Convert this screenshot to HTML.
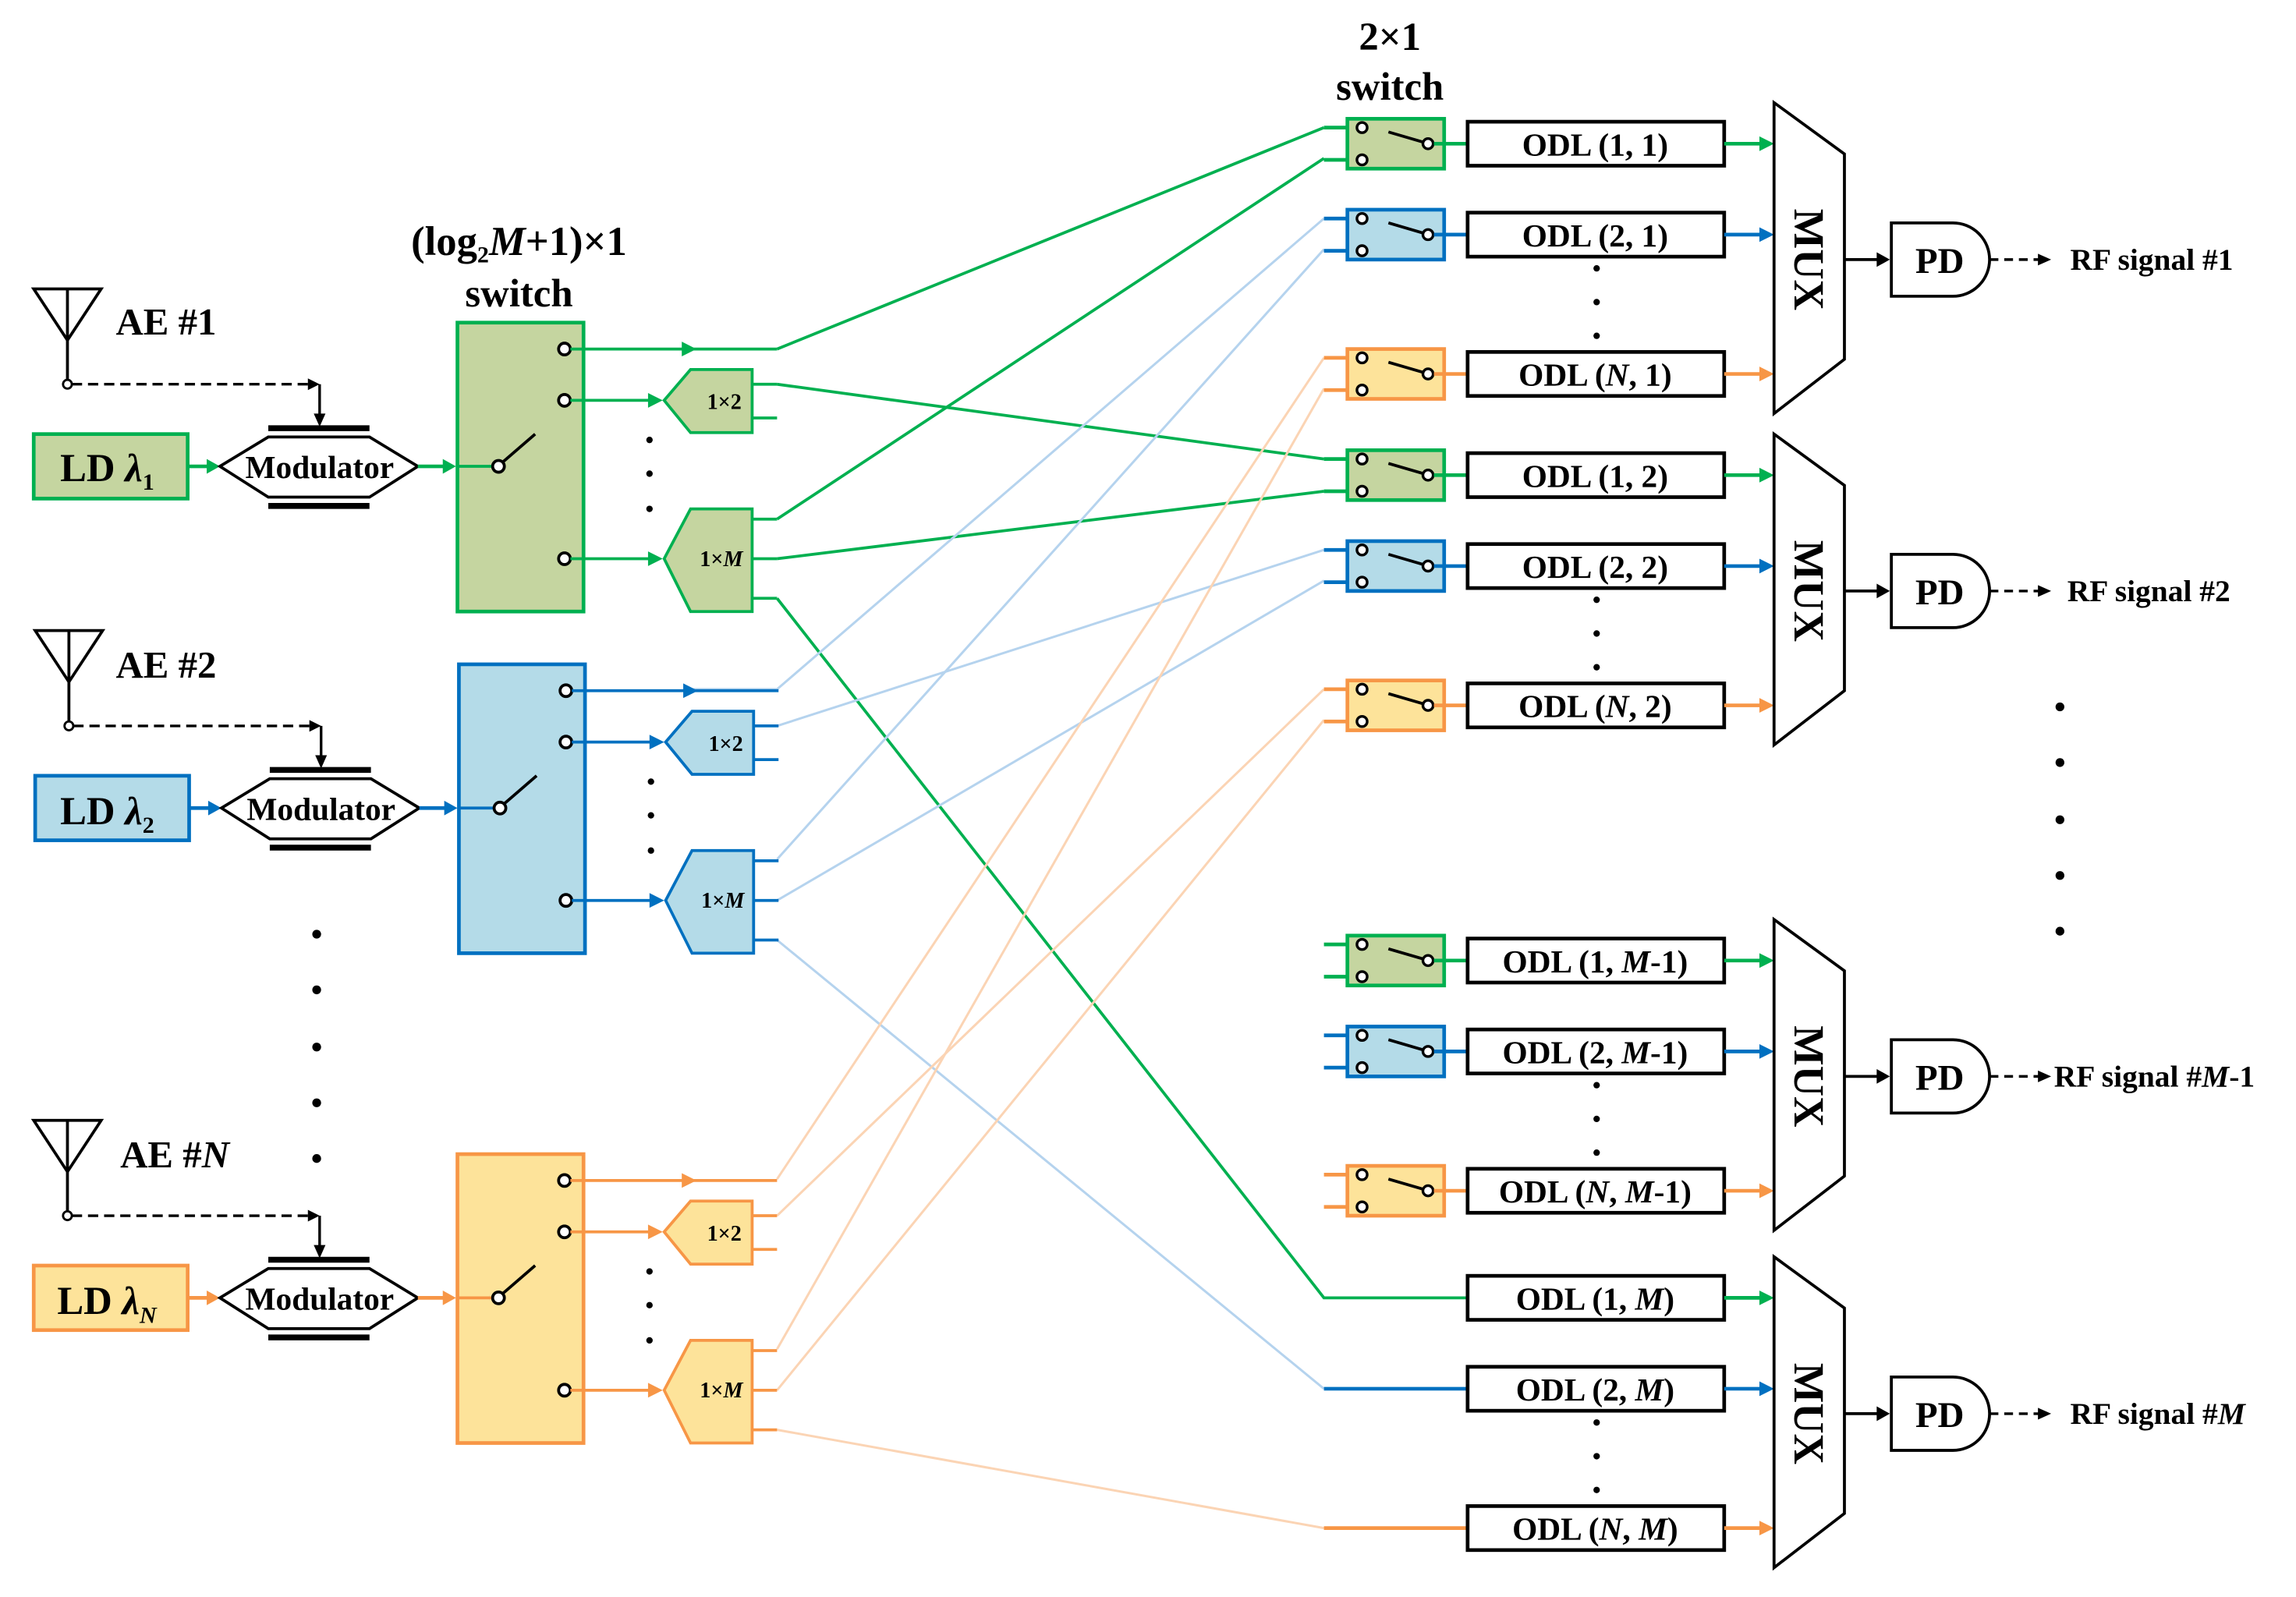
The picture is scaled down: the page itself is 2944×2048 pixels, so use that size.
<!DOCTYPE html>
<html><head><meta charset="utf-8"><style>
html,body{margin:0;padding:0;background:#fff}
svg{display:block}
text{font-family:"Liberation Serif",serif;font-weight:bold;fill:#000}
</style></head><body>
<svg width="2944" height="2048" viewBox="0 0 1566 1089" preserveAspectRatio="none" xmlns="http://www.w3.org/2000/svg">
<defs>
<g id="blk">
 <polygon points="23,197 69,197 46,232" fill="none" stroke="#000" stroke-width="2"/>
 <line x1="46" y1="197" x2="46" y2="259" stroke="#000" stroke-width="2"/>
 <circle cx="46" cy="262" r="3" fill="#fff" stroke="#000" stroke-width="1.5"/>
 <line x1="49" y1="262" x2="212" y2="262" stroke="#000" stroke-width="1.8" stroke-dasharray="7,4"/>
 <polygon points="210,258 218,262 210,266" fill="#000"/>
 <line x1="218" y1="262" x2="218" y2="283" stroke="#000" stroke-width="1.8"/>
 <polygon points="214,282 218,291 222,282" fill="#000"/>
 <rect x="23" y="296" width="105" height="44" style="fill:var(--f)" stroke="currentColor" stroke-width="2.5"/>
 <line x1="128" y1="318" x2="143" y2="318" stroke="currentColor" stroke-width="2.5"/>
 <polygon points="141,313 150,318 141,323" fill="currentColor"/>
 <polygon points="150,318 183,298 252,298 285,318 252,339 183,339" fill="#fff" stroke="#000" stroke-width="2"/>
 <line x1="183" y1="292" x2="252" y2="292" stroke="#000" stroke-width="4"/>
 <line x1="183" y1="345" x2="252" y2="345" stroke="#000" stroke-width="4"/>
 <text x="218" y="326" font-size="22" text-anchor="middle">Modulator</text>
 <line x1="285" y1="318" x2="304" y2="318" stroke="currentColor" stroke-width="2.5"/>
 <polygon points="302,313 311,318 302,323" fill="currentColor"/>
 <rect x="312" y="220" width="86" height="197" style="fill:var(--f)" stroke="currentColor" stroke-width="2.5"/>
 <line x1="311" y1="318" x2="336" y2="318" stroke="currentColor" stroke-width="2"/>
 <circle cx="340" cy="318" r="4" fill="#fff" stroke="#000" stroke-width="2"/>
 <line x1="343" y1="315" x2="365" y2="296" stroke="#000" stroke-width="2"/>
 <circle cx="385" cy="238" r="4" fill="#fff" stroke="#000" stroke-width="2"/>
 <circle cx="385" cy="273" r="4" fill="#fff" stroke="#000" stroke-width="2"/>
 <circle cx="385" cy="381" r="4" fill="#fff" stroke="#000" stroke-width="2"/>
 <line x1="389" y1="238" x2="530" y2="238" stroke="currentColor" stroke-width="2"/>
 <polygon points="465,233 475,238 465,243" fill="currentColor"/>
 <line x1="389" y1="273" x2="446" y2="273" stroke="currentColor" stroke-width="2"/>
 <polygon points="442,268 452,273 442,278" fill="currentColor"/>
 <line x1="389" y1="381" x2="446" y2="381" stroke="currentColor" stroke-width="2"/>
 <polygon points="442,376 452,381 442,386" fill="currentColor"/>
 <polygon points="453,273 471,252 513,252 513,295 471,295" style="fill:var(--f)" stroke="currentColor" stroke-width="2"/>
 <text x="494" y="279" font-size="15" font-weight="normal" text-anchor="middle">1×2</text>
 <line x1="513" y1="262" x2="530" y2="262" stroke="currentColor" stroke-width="2"/>
 <line x1="513" y1="285" x2="530" y2="285" stroke="currentColor" stroke-width="2"/>
 <polygon points="453,381 471,347 513,347 513,417 471,417" style="fill:var(--f)" stroke="currentColor" stroke-width="2"/>
 <text x="492" y="386" font-size="15" font-weight="normal" text-anchor="middle">1×<tspan font-style="italic">M</tspan></text>
 <line x1="513" y1="354" x2="530" y2="354" stroke="currentColor" stroke-width="2"/>
 <line x1="513" y1="381" x2="530" y2="381" stroke="currentColor" stroke-width="2"/>
 <line x1="513" y1="408" x2="530" y2="408" stroke="currentColor" stroke-width="2"/>
 <circle cx="443" cy="300" r="2.2" fill="#000"/>
 <circle cx="443" cy="323" r="2.2" fill="#000"/>
 <circle cx="443" cy="347" r="2.2" fill="#000"/>
</g>
<g id="sw">
 <line x1="903" y1="-11" x2="925" y2="-11" stroke="currentColor" stroke-width="2.5"/>
 <line x1="903" y1="11" x2="925" y2="11" stroke="currentColor" stroke-width="2.5"/>
 <rect x="919" y="-17" width="66" height="34" style="fill:var(--f)" stroke="currentColor" stroke-width="2.5"/>
 <circle cx="929" cy="-11" r="3.5" fill="#fff" stroke="#000" stroke-width="1.8"/>
 <circle cx="929" cy="11" r="3.5" fill="#fff" stroke="#000" stroke-width="1.8"/>
 <line x1="947" y1="-8" x2="971" y2="-1" stroke="#000" stroke-width="2"/>
 <circle cx="974" cy="0" r="3.5" fill="#fff" stroke="#000" stroke-width="1.8"/>
 <line x1="978" y1="0" x2="1001" y2="0" stroke="currentColor" stroke-width="2.5"/>
</g>
<g id="grp">
 <path d="M1210,70 L1258,105 L1258,245 L1210,282 Z" fill="#fff" stroke="#000" stroke-width="2"/>
 <text transform="translate(1224,177) rotate(90)" font-size="29" text-anchor="middle">MUX</text>
 <line x1="1258" y1="177" x2="1282" y2="177" stroke="#000" stroke-width="2"/>
 <polygon points="1280,172 1289,177 1280,182" fill="#000"/>
 <path d="M1290,152 L1332,152 A25,25 0 0 1 1332,202 L1290,202 Z" fill="#fff" stroke="#000" stroke-width="2"/>
 <text x="1323" y="186" font-size="25" text-anchor="middle">PD</text>
 <line x1="1357" y1="177" x2="1392" y2="177" stroke="#000" stroke-width="1.8" stroke-dasharray="6,4"/>
 <polygon points="1390,173 1399,177 1390,181" fill="#000"/>
</g>
</defs>

<g fill="none" stroke-width="1.6">
 <polyline points="530,238 903,87" stroke="#00b050" stroke-width="2"/>
 <polyline points="530,262 903,313" stroke="#00b050" stroke-width="2"/>
 <polyline points="530,354 903,108" stroke="#00b050" stroke-width="2"/>
 <polyline points="530,381 903,335" stroke="#00b050" stroke-width="2"/>
 <polyline points="530,408 903,885 1001,885" stroke="#00b050" stroke-width="2"/>
 <polyline points="470,470 530,470 903,149" stroke="#b5d3ee"/>
 <polyline points="530,495 903,375" stroke="#b5d3ee"/>
 <polyline points="530,586 903,170" stroke="#b5d3ee"/>
 <polyline points="530,614 903,396" stroke="#b5d3ee"/>
 <polyline points="530,641 903,947" stroke="#b5d3ee"/>
 <line x1="903" y1="947" x2="1001" y2="947" stroke="#0070c0" stroke-width="2.5"/>
 <polyline points="530,804 903,244" stroke="#fbd4b4"/>
 <polyline points="530,829 903,470" stroke="#fbd4b4"/>
 <polyline points="530,920 903,265" stroke="#fbd4b4"/>
 <polyline points="530,948 903,491" stroke="#fbd4b4"/>
 <polyline points="530,975 903,1042" stroke="#fbd4b4"/>
 <line x1="903" y1="1042" x2="1001" y2="1042" stroke="#f79646" stroke-width="2.5"/>
</g>

<use href="#blk" style="color:#00b050;--f:#c5d5a0"/>
<use href="#blk" transform="translate(1,233)" style="color:#0070c0;--f:#b4dbe8"/>
<use href="#blk" transform="translate(0,567)" style="color:#f79646;--f:#fde39a"/>

<text x="79" y="228" font-size="26">AE #1</text>
<text x="79" y="462" font-size="26">AE #2</text>
<text x="82" y="796" font-size="26">AE #<tspan font-style="italic">N</tspan></text>
<text x="41" y="328" font-size="27">LD <tspan font-style="italic">λ</tspan><tspan font-size="16" dy="6">1</tspan></text>
<text x="41" y="562" font-size="27">LD <tspan font-style="italic">λ</tspan><tspan font-size="16" dy="6">2</tspan></text>
<text x="39" y="896" font-size="27">LD <tspan font-style="italic">λ</tspan><tspan font-size="16" dy="6" font-style="italic">N</tspan></text>
<text x="354" y="174" font-size="28" text-anchor="middle">(log<tspan font-size="16" dy="5">2</tspan><tspan dy="-5" font-style="italic">M</tspan>+1)×1</text>
<text x="354" y="209" font-size="27" text-anchor="middle">switch</text>
<text x="948" y="34" font-size="27" text-anchor="middle">2×1</text>
<text x="948" y="68" font-size="27" text-anchor="middle">switch</text>
<g fill="#000">
 <circle cx="216" cy="637" r="3"/><circle cx="216" cy="675" r="3"/><circle cx="216" cy="714" r="3"/><circle cx="216" cy="752" r="3"/><circle cx="216" cy="790" r="3"/>
 <circle cx="1405" cy="482" r="3"/><circle cx="1405" cy="520" r="3"/><circle cx="1405" cy="559" r="3"/><circle cx="1405" cy="597" r="3"/><circle cx="1405" cy="635" r="3"/>
</g>

<use href="#sw" transform="translate(0,98)" style="color:#00b050;--f:#c5d5a0"/>
<use href="#sw" transform="translate(0,160)" style="color:#0070c0;--f:#b4dbe8"/>
<use href="#sw" transform="translate(0,255)" style="color:#f79646;--f:#fde39a"/>
<use href="#sw" transform="translate(0,324)" style="color:#00b050;--f:#c5d5a0"/>
<use href="#sw" transform="translate(0,386)" style="color:#0070c0;--f:#b4dbe8"/>
<use href="#sw" transform="translate(0,481)" style="color:#f79646;--f:#fde39a"/>
<use href="#sw" transform="translate(0,655)" style="color:#00b050;--f:#c5d5a0"/>
<use href="#sw" transform="translate(0,717)" style="color:#0070c0;--f:#b4dbe8"/>
<use href="#sw" transform="translate(0,812)" style="color:#f79646;--f:#fde39a"/>

<g stroke-width="2.5">
 <g fill="#fff" stroke="#000">
  <rect x="1001" y="83" width="175" height="30"/><rect x="1001" y="145" width="175" height="30"/><rect x="1001" y="240" width="175" height="30"/>
  <rect x="1001" y="309" width="175" height="30"/><rect x="1001" y="371" width="175" height="30"/><rect x="1001" y="466" width="175" height="30"/>
  <rect x="1001" y="640" width="175" height="30"/><rect x="1001" y="702" width="175" height="30"/><rect x="1001" y="797" width="175" height="30"/>
  <rect x="1001" y="870" width="175" height="30"/><rect x="1001" y="932" width="175" height="30"/><rect x="1001" y="1027" width="175" height="30"/>
 </g>
 <g stroke="#00b050"><line x1="1176" y1="98" x2="1202" y2="98"/><line x1="1176" y1="324" x2="1202" y2="324"/><line x1="1176" y1="655" x2="1202" y2="655"/><line x1="1176" y1="885" x2="1202" y2="885"/></g>
 <g stroke="#0070c0"><line x1="1176" y1="160" x2="1202" y2="160"/><line x1="1176" y1="386" x2="1202" y2="386"/><line x1="1176" y1="717" x2="1202" y2="717"/><line x1="1176" y1="947" x2="1202" y2="947"/></g>
 <g stroke="#f79646"><line x1="1176" y1="255" x2="1202" y2="255"/><line x1="1176" y1="481" x2="1202" y2="481"/><line x1="1176" y1="812" x2="1202" y2="812"/><line x1="1176" y1="1042" x2="1202" y2="1042"/></g>
</g>
<g fill="#00b050"><polygon points="1200,93 1210,98 1200,103"/><polygon points="1200,319 1210,324 1200,329"/><polygon points="1200,650 1210,655 1200,660"/><polygon points="1200,880 1210,885 1200,890"/></g>
<g fill="#0070c0"><polygon points="1200,155 1210,160 1200,165"/><polygon points="1200,381 1210,386 1200,391"/><polygon points="1200,712 1210,717 1200,722"/><polygon points="1200,942 1210,947 1200,952"/></g>
<g fill="#f79646"><polygon points="1200,250 1210,255 1200,260"/><polygon points="1200,476 1210,481 1200,486"/><polygon points="1200,807 1210,812 1200,817"/><polygon points="1200,1037 1210,1042 1200,1047"/></g>
<g font-size="22" text-anchor="middle">
 <text x="1088" y="106">ODL (1, 1)</text>
 <text x="1088" y="168">ODL (2, 1)</text>
 <text x="1088" y="263">ODL (<tspan font-style="italic">N</tspan>, 1)</text>
 <text x="1088" y="332">ODL (1, 2)</text>
 <text x="1088" y="394">ODL (2, 2)</text>
 <text x="1088" y="489">ODL (<tspan font-style="italic">N</tspan>, 2)</text>
 <text x="1088" y="663">ODL (1, <tspan font-style="italic">M</tspan>-1)</text>
 <text x="1088" y="725">ODL (2, <tspan font-style="italic">M</tspan>-1)</text>
 <text x="1088" y="820">ODL (<tspan font-style="italic">N</tspan>, <tspan font-style="italic">M</tspan>-1)</text>
 <text x="1088" y="893">ODL (1, <tspan font-style="italic">M</tspan>)</text>
 <text x="1088" y="955">ODL (2, <tspan font-style="italic">M</tspan>)</text>
 <text x="1088" y="1050">ODL (<tspan font-style="italic">N</tspan>, <tspan font-style="italic">M</tspan>)</text>
</g>
<g fill="#000">
 <circle cx="1089" cy="183" r="2.2"/><circle cx="1089" cy="206" r="2.2"/><circle cx="1089" cy="229" r="2.2"/>
 <circle cx="1089" cy="409" r="2.2"/><circle cx="1089" cy="432" r="2.2"/><circle cx="1089" cy="455" r="2.2"/>
 <circle cx="1089" cy="740" r="2.2"/><circle cx="1089" cy="763" r="2.2"/><circle cx="1089" cy="786" r="2.2"/>
 <circle cx="1089" cy="970" r="2.2"/><circle cx="1089" cy="993" r="2.2"/><circle cx="1089" cy="1016" r="2.2"/>
</g>

<use href="#grp"/>
<use href="#grp" transform="translate(0,226)"/>
<use href="#grp" transform="translate(0,557)"/>
<use href="#grp" transform="translate(0,787)"/>
<g font-size="21">
 <text x="1412" y="184">RF signal #1</text>
 <text x="1410" y="410">RF signal #2</text>
 <text x="1401" y="741">RF signal #<tspan font-style="italic">M</tspan>-1</text>
 <text x="1412" y="971">RF signal #<tspan font-style="italic">M</tspan></text>
</g>
</svg>
</body></html>
